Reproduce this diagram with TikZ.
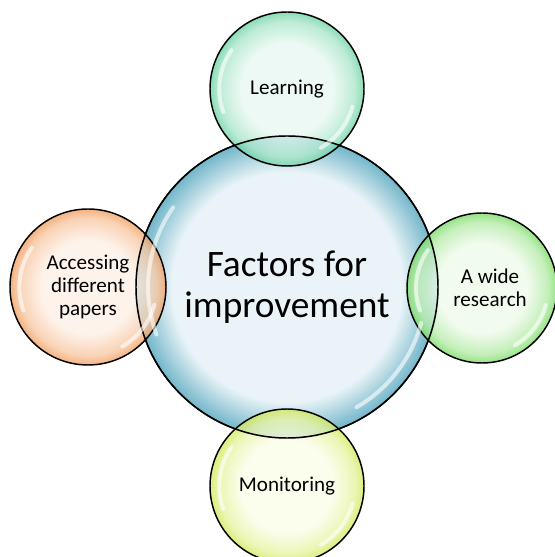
\documentclass[tikz,border=0pt]{standalone}
\usepackage{fontspec}
\setmainfont{Carlito}
\usepackage{xcolor}
\definecolor{hubin}{HTML}{EAF4F8}
\definecolor{hubout}{HTML}{72B6CA}
\definecolor{learnin}{HTML}{E8F8F1}
\definecolor{learnout}{HTML}{6FD4A6}
\definecolor{researchin}{HTML}{EEFAEA}
\definecolor{researchout}{HTML}{7CDC66}
\definecolor{papersin}{HTML}{FDF0E6}
\definecolor{papersout}{HTML}{F2A062}
\definecolor{monitorin}{HTML}{FAFDE8}
\definecolor{monitorout}{HTML}{D2EA5C}

% radial shadings (node rim sits at 25bp)
\newcommand{\bubbleshading}[4]{%
  \pgfdeclareradialshading{#1}{\pgfpointorigin}{%
    color(0bp)=(#2); color(#4bp)=(#2); color(22bp)=(#2!50!#3); color(25bp)=(#3); color(50bp)=(#3)}}
\bubbleshading{hubshade}{hubin}{hubout}{19}
\bubbleshading{learnshade}{learnin}{learnout}{15}
\bubbleshading{researchshade}{researchin}{researchout}{15}
\bubbleshading{papersshade}{papersin}{papersout}{15}
\bubbleshading{monitorshade}{monitorin}{monitorout}{15}

\tikzset{
  bubble/.style={circle, draw=black, line width=1.1pt, inner sep=0pt, align=center,
    shade, text=black, font=\fontsize{15.8}{17.2}\selectfont},
  hubbubble/.style={bubble, minimum size=226.5pt, shading=hubshade,
    font=\fontsize{28}{31}\selectfont},
  satbubble/.style={bubble, minimum size=115.5pt, fill opacity=.8, text opacity=1},
  gloss/.style={white, line width=3pt, line cap=round, opacity=.6},
}

\begin{document}
\begin{tikzpicture}[x=0.75pt,y=0.75pt]
  \useasboundingbox (0,0) rectangle (555,557);

  % centre
  \node[hubbubble] (hub) at (287,270) {Factors for\\improvement};

  % the four factors
  \node[satbubble, shading=learnshade] (learn) at (287,468) {Learning};
  \node[satbubble, shading=researchshade, minimum size=112.5pt] (research) at (482,269) {};
  \node[font=\fontsize{15.8}{17.2}\selectfont, align=center] (researchtext)
    at ([xshift=6pt]research.center) {A wide\\research};
  \node[satbubble, shading=papersshade, minimum size=117pt] (papers) at (88,270)
    {Accessing\\different\\papers};
  \node[satbubble, shading=monitorshade] (monitor) at (287,71) {Monitoring};

  % outline of the centre seen through the bubbles
  \draw[line width=1.1pt] (hub.center) circle[radius=151];

  % glossy highlights
  \foreach \b/\r/\f in {hub/151/.92,learn/77/.88,research/75/.88,papers/78/.88,monitor/77/.88}{
    \draw[gloss] (\b.center) ++(200:{\f*\r}) arc[start angle=200, end angle=145, radius={\f*\r}];
    \draw[gloss] (\b.center) ++(-60:{\f*\r}) arc[start angle=-60, end angle=-15, radius={\f*\r}];
  }
\end{tikzpicture}
\end{document}
